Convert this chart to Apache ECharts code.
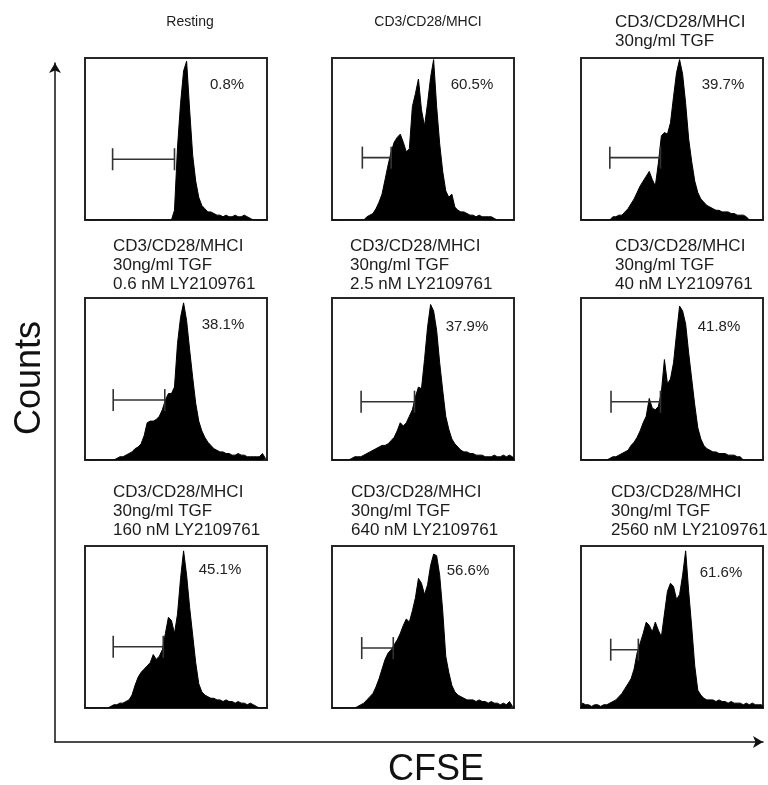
<!DOCTYPE html>
<html>
<head>
<meta charset="utf-8">
<title>CFSE histograms</title>
<script src="https://cdn.jsdelivr.net/npm/echarts@6/dist/echarts.min.js"></script>
<style>
  html, body { margin: 0; padding: 0; background: #fff; }
  #chart { width: 768px; height: 785px; }
</style>
</head>
<body>
<div id="chart"></div>
<script>
// panel headers
const titles = [
  'Resting',
  'CD3/CD28/MHCI',
  'CD3/CD28/MHCI\n30ng/ml TGF',
  'CD3/CD28/MHCI\n30ng/ml TGF\n0.6 nM LY2109761',
  'CD3/CD28/MHCI\n30ng/ml TGF\n2.5 nM LY2109761',
  'CD3/CD28/MHCI\n30ng/ml TGF\n40 nM LY2109761',
  'CD3/CD28/MHCI\n30ng/ml TGF\n160 nM LY2109761',
  'CD3/CD28/MHCI\n30ng/ml TGF\n640 nM LY2109761',
  'CD3/CD28/MHCI\n30ng/ml TGF\n2560 nM LY2109761'
]
const percents = ['0.8%', '60.5%', '39.7%', '38.1%', '37.9%', '41.8%', '45.1%', '56.6%', '61.6%']

// counts per CFSE bin (60 bins, scaled to panel max = 100)
const resting = [0,0,0,0,0,0,0,0,0,0, 0,0,0,0,0,0,0,0,0,0, 0,0,0,0,0,0,0,0,0,6, 45,72,92,98,68,40,24,14,9,7, 5,5,4,3,3,2,3,2,2,3, 2,2,3,2,1,0,0,0,0,0]
const stim = [0,0,0,0,0,0,0,0,0,0, 0,2,3,4,7,11,16,25,34,42, 48,51,53,48,42,44,70,78,87,68, 58,72,88,99,70,47,30,18,14,16, 8,6,5,5,4,3,3,2,3,2, 2,2,2,1,0,0,0,0,0,0]
const tgf = [0,0,0,0,0,0,0,0,0,0, 2,2,3,3,5,7,10,13,17,21, 24,27,30,25,21,35,52,54,53,60, 76,91,99,90,72,50,36,24,17,13, 11,9,8,7,6,6,5,5,5,4, 4,3,3,3,2,0,0,0,0,0]
const ly06 = [0,0,0,0,0,0,0,0,0,0, 1,2,2,3,4,5,7,8,10,15, 23,24,24,25,27,31,37,41,41,45, 72,88,97,86,68,51,35,24,18,14, 11,9,7,6,5,5,4,4,3,3, 4,3,3,2,2,2,2,2,4,1]
const ly25 = [0,0,0,0,0,0,1,2,2,2, 3,4,5,6,7,8,9,9,10,12, 14,18,23,21,23,27,31,39,45,44, 62,82,96,92,80,60,43,27,19,13, 10,8,6,5,5,4,4,3,3,3, 2,2,2,3,2,2,3,2,3,2]
const ly40 = [0,0,0,0,0,0,0,0,0,1, 2,2,3,4,5,6,9,11,14,18, 23,27,38,32,31,33,42,62,47,50, 60,78,95,92,84,66,50,34,20,13, 9,7,6,5,5,4,4,4,3,3, 3,2,2,0,0,0,0,0,0,0]
const ly160 = [0,0,0,0,0,0,0,0,1,2, 2,3,3,4,5,8,14,19,22,24, 26,28,33,30,32,36,46,56,54,46, 58,80,97,82,62,45,28,15,10,8, 7,6,6,5,5,4,5,4,4,3, 4,3,3,2,3,2,1,0,0,0]
const ly640 = [0,0,0,0,0,0,0,0,1,2, 3,5,7,9,13,18,24,30,34,36, 39,42,46,51,55,53,60,68,80,77, 70,76,88,95,94,82,60,32,22,14, 10,8,7,6,5,5,5,4,5,4, 4,3,4,3,3,2,3,2,4,1]
const ly2560 = [3,2,2,1,2,2,1,2,2,3, 4,5,7,9,12,15,18,24,34,40, 46,53,51,47,53,48,44,58,72,77, 75,67,70,82,97,72,50,26,11,8, 6,5,5,5,4,5,4,4,3,4, 3,3,3,2,3,2,3,2,2,2]
const histograms = [resting, stim, tgf, ly06, ly25, ly40, ly160, ly640, ly2560]

// gate bar (bin units) and its height
const gateStart = [9.1, 10.0, 9.5, 9.3, 9.6, 9.9, 9.3, 9.8, 9.8]
const gateEnd = [29.5, 19.5, 26.2, 26.3, 27.2, 26.2, 25.8, 20.2, 18.9]
const gateLevel = [37.5, 38.5, 38.5, 37, 36, 36, 37.8, 37, 36]

const font = '"Liberation Sans", Arial, sans-serif'
const colLeft = [85, 332, 581]
const rowTop = [58, 298, 546]
const panelW = 182
const panelH = 162

// header placement
const titleLayout = [
  { left: 190, top: 14, size: 14, align: 'center' },
  { left: 428, top: 14, size: 14, align: 'center' },
  { left: 615, top: 12.5, size: 17, align: 'left' },
  { left: 113, top: 236.5, size: 17, align: 'left' },
  { left: 350, top: 236.5, size: 17, align: 'left' },
  { left: 615, top: 236.5, size: 17, align: 'left' },
  { left: 113, top: 482.5, size: 17, align: 'left' },
  { left: 351, top: 482.5, size: 17, align: 'left' },
  { left: 611, top: 482.5, size: 17, align: 'left' }
]
const pctPos = [[227, 85], [472, 85], [723, 85], [223, 325], [467, 327], [719, 327], [220, 570], [468, 571], [721, 573]]

const chart = echarts.init(document.getElementById('chart'))

const grid = []
const xAxis = []
const yAxis = []
const series = []
const title = []
const graphic = []

histograms.forEach((counts, i) => {
  const row = Math.floor(i / 3)
  const col = i % 3
  grid.push({
    left: colLeft[col],
    top: rowTop[row],
    width: panelW,
    height: panelH,
    show: true,
    borderColor: '#262626',
    borderWidth: 2,
    backgroundColor: 'transparent'
  })
  xAxis.push({ gridIndex: i, type: 'value', min: 0, max: counts.length, show: false })
  yAxis.push({ gridIndex: i, type: 'value', min: 0, max: 100, show: false })

  // points at bin centres, closed to zero at both ends
  const pts = counts.map((v, k) => [k + 0.5, v])
  pts.unshift([0, 0])
  pts.push([counts.length, 0])
  series.push({
    type: 'line',
    xAxisIndex: i,
    yAxisIndex: i,
    symbol: 'none',
    data: pts,
    lineStyle: { color: '#000', width: 1 },
    areaStyle: { color: '#000', opacity: 1 },
    z: 2
  })
  series.push({
    type: 'line',
    xAxisIndex: i,
    yAxisIndex: i,
    data: [[gateStart[i], gateLevel[i]], [gateEnd[i], gateLevel[i]]],
    symbol: 'rect',
    symbolSize: [1.6, 22],
    itemStyle: { color: '#333' },
    lineStyle: { color: '#333', width: 1.6 },
    clip: false,
    z: 3
  })

  const tl = titleLayout[i]
  title.push({
    text: titles[i],
    left: tl.left,
    top: tl.top,
    textAlign: tl.align,
    padding: 0,
    textStyle: {
      fontFamily: font,
      fontSize: tl.size,
      lineHeight: tl.size + 2,
      fontWeight: 'normal',
      color: '#1c1c1c'
    }
  })
  graphic.push({
    type: 'text',
    x: pctPos[i][0],
    y: pctPos[i][1],
    style: {
      text: percents[i],
      font: '15px ' + font,
      fill: '#222',
      textAlign: 'center',
      textVerticalAlign: 'middle'
    }
  })
})

// outer Counts / CFSE axes with arrow heads
grid.push({ left: 55, top: 63, right: 5, bottom: 43 })
xAxis.push({
  gridIndex: 9, type: 'value', min: 0, max: 1,
  axisLine: { show: true, symbol: ['none', 'arrow'], symbolSize: [9, 10], lineStyle: { color: '#111', width: 1.5 } },
  axisTick: { show: false }, axisLabel: { show: false }, splitLine: { show: false }
})
yAxis.push({
  gridIndex: 9, type: 'value', min: 0, max: 1,
  axisLine: { show: true, symbol: ['none', 'arrow'], symbolSize: [9, 10], lineStyle: { color: '#111', width: 1.5 } },
  axisTick: { show: false }, axisLabel: { show: false }, splitLine: { show: false }
})

graphic.push({
  type: 'text',
  x: 30,
  y: 378,
  rotation: Math.PI / 2,
  style: { text: 'Counts', font: '36px ' + font, fill: '#111', textAlign: 'center', textVerticalAlign: 'middle' }
})
graphic.push({
  type: 'text',
  x: 436,
  y: 770,
  style: { text: 'CFSE', font: '36px ' + font, fill: '#111', textAlign: 'center', textVerticalAlign: 'middle' }
})

chart.setOption({
  animation: false,
  backgroundColor: '#fff',
  title,
  grid,
  xAxis,
  yAxis,
  series,
  graphic
})
</script>
</body>
</html>
